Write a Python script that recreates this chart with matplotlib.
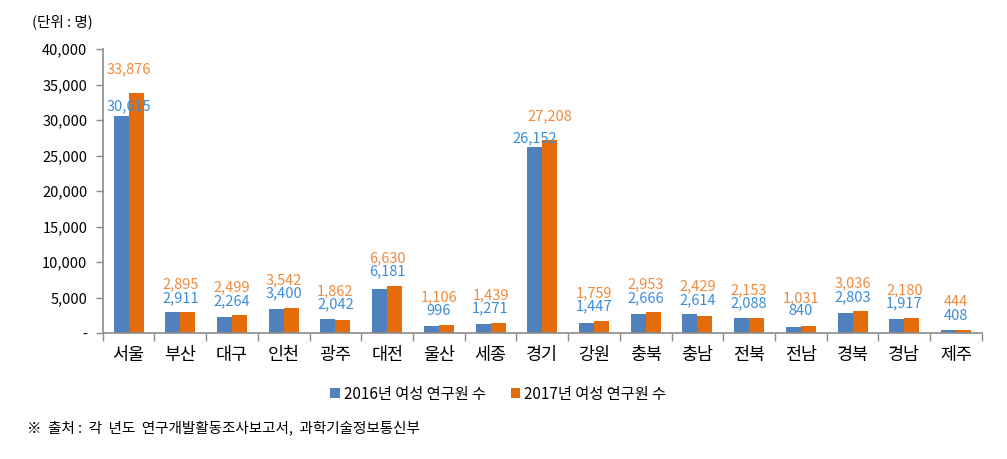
import matplotlib.pyplot as plt
import numpy as np

plt.rcParams['font.family'] = ['Noto Sans CJK KR', 'DejaVu Sans']

# 데이터
regions = ['서울', '부산', '대구', '인천', '광주', '대전', '울산', '세종', '경기',
           '강원', '충북', '충남', '전북', '전남', '경북', '경남', '제주']
v2016 = [30615, 2911, 2264, 3400, 2042, 6181, 996, 1271, 26152,
         1447, 2666, 2614, 2088, 840, 2803, 1917, 408]
v2017 = [33876, 2895, 2499, 3542, 1862, 6630, 1106, 1439, 27208,
         1759, 2953, 2429, 2153, 1031, 3036, 2180, 444]
yticks = [0, 5000, 10000, 15000, 20000, 25000, 30000, 35000, 40000]

c16, c17 = '#4F81BD', '#E46C0A'
lc16, lc17 = '#3A8DD8', '#F08A3C'
spine = '#8C8C8C'

fig = plt.figure(figsize=(10.07, 4.59), dpi=100)
ax = fig.add_axes([0.102, 0.2745, 0.873, 0.6185])

x = np.arange(len(regions))
w = 0.29
ax.bar(x - w / 2, v2016, w, color=c16, label='2016년 여성 연구원 수')
ax.bar(x + w / 2, v2017, w, color=c17, label='2017년 여성 연구원 수')

# 데이터 레이블
fs = 10.5
for i, (a, b) in enumerate(zip(v2016, v2017)):
    if a > 20000:
        ax.text(x[i] - w / 2 if i else x[i], a + 1300, f'{a:,}', ha='center', va='center',
                color=lc16, fontsize=fs)
        ax.text(x[i] + w / 2 if i else x[i], b + 3300, f'{b:,}', ha='center', va='center',
                color=lc17, fontsize=fs)
    else:
        yb = max(a, b) + 2000
        ax.text(x[i], yb, f'{a:,}', ha='center', va='center', color=lc16, fontsize=fs)
        ax.text(x[i], yb + 1900, f'{b:,}', ha='center', va='center', color=lc17, fontsize=fs)

ax.set_xlim(-0.5, len(regions) - 0.5)
ax.set_ylim(0, 40000)
ax.set_yticks(yticks)
ax.set_yticklabels(['-'] + [f'{t:,}' for t in yticks[1:]], fontsize=10.5)
ax.set_xticks(x)
ax.set_xticklabels(regions, fontsize=12.5)
ax.set_xticks(np.arange(len(regions) + 1) - 0.5, minor=True)
ax.tick_params(axis='x', which='major', length=0, pad=9)
ax.tick_params(axis='x', which='minor', length=6, color=spine, width=1)
ax.tick_params(axis='y', length=5, color=spine, width=1, pad=6)

for s in ['top', 'right']:
    ax.spines[s].set_visible(False)
for s in ['left', 'bottom']:
    ax.spines[s].set_color(spine)
    ax.spines[s].set_linewidth(1.2)

fig.text(0.032, 0.952, '(단위 : 명)', fontsize=10.5, va='center')
ax.legend(loc='center', bbox_to_anchor=(0.45, -0.215), ncol=2, frameon=False,
          fontsize=11, handlelength=0.6, handleheight=0.6, handletextpad=0.3,
          columnspacing=1.6)
fig.text(0.027, 0.068, '※  출처 :  각  년도  연구개발활동조사보고서,  과학기술정보통신부',
         fontsize=10.5, va='center')

fig.savefig('out.png', dpi=100)
